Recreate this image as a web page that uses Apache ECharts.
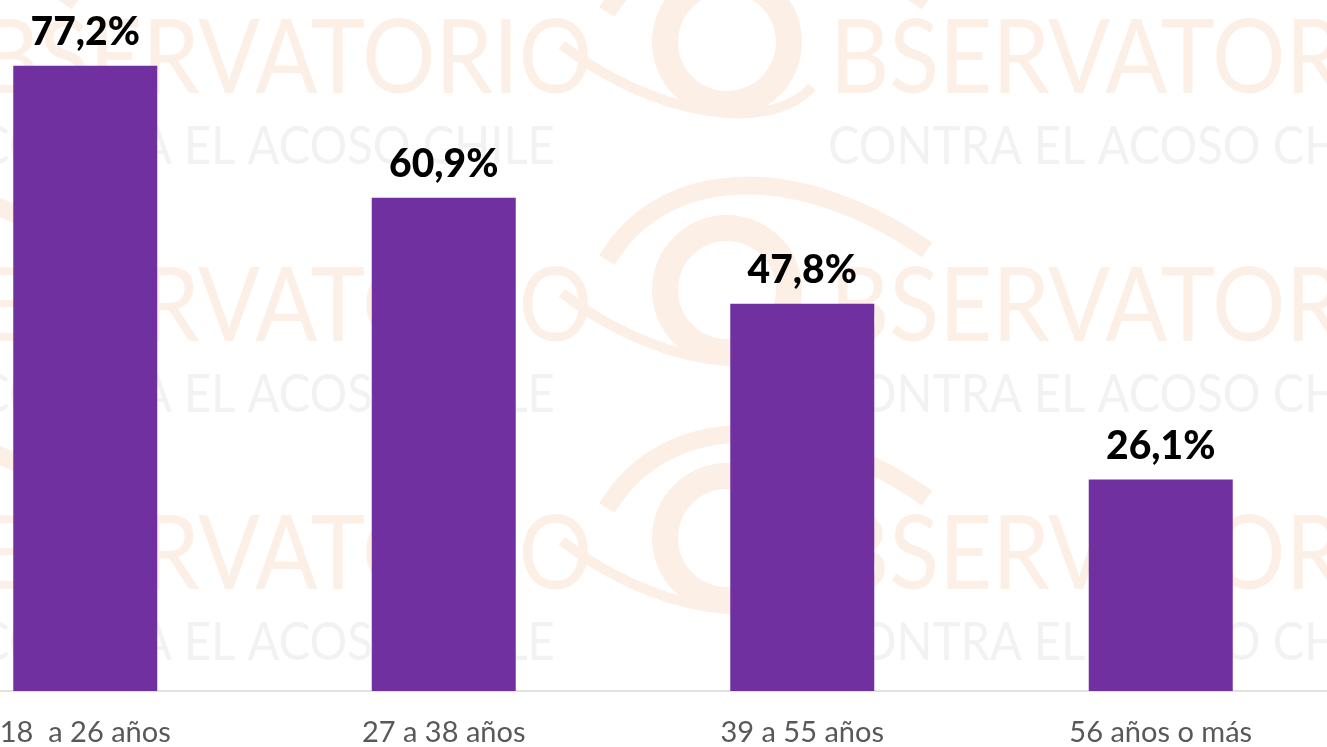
<!DOCTYPE html>
<html>
<head>
<meta charset="utf-8">
<script src="https://cdn.jsdelivr.net/npm/echarts@6/dist/echarts.min.js"></script>
<style>
  html, body { margin: 0; padding: 0; background: #fff; overflow: hidden; width: 1327px; height: 747px; }
  /* the plot runs past the left and right edges of the picture */
  #chart { position: absolute; left: -94px; top: 0; width: 1434px; height: 747px; }
</style>
</head>
<body>
<div id="chart"></div>
<script>
// Data
var categories = ['18  a 26 años', '27 a 38 años', '39 a 55 años', '56 años o más'];
var values = [77.2, 60.9, 47.8, 26.1];

// Watermark layout (logo repeated in a grid behind the bars), page coords
var shiftX = 94;
var wmColumns = [-20, 830];
var wmRows = [60, 308, 556];
var wmOrange = '#fcefe6';
var wmGray = '#f2f2f2';

function buildWatermark() {
    var els = [];
    wmColumns.forEach(function (px) {
        var x0 = px + shiftX;
        wmRows.forEach(function (cy) {
            var cx = x0 - 103, cyr = cy - 18;
            // upper lid
            els.push({
                type: 'bezierCurve', z: -10, silent: true,
                shape: { x1: cx - 120, y1: cyr - 30, cpx1: cx - 60, cpy1: cyr - 130,
                         cpx2: cx + 80, cpy2: cyr - 125, x2: cx + 200, y2: cyr - 40 },
                style: { stroke: wmOrange, lineWidth: 18, fill: null }
            });
            // lower lid
            els.push({
                type: 'bezierCurve', z: -10, silent: true,
                shape: { x1: cx - 165, y1: cyr + 3, cpx1: cx - 80, cpy1: cyr + 70,
                         cpx2: cx + 40, cpy2: cyr + 95, x2: cx + 85, y2: cyr + 45 },
                style: { stroke: wmOrange, lineWidth: 10, fill: null }
            });
            // the "O"
            els.push({
                type: 'ring', z: -10, silent: true,
                shape: { cx: cx, cy: cyr, r: 75, r0: 49 },
                style: { fill: wmOrange }
            });
            els.push({
                type: 'text', z: -10, silent: true,
                x: x0, y: cy, scaleX: 0.9,
                style: {
                    text: 'BSERVATORIO', fill: wmOrange,
                    fontSize: 102, fontFamily: 'Lato', fontWeight: 'normal',
                    verticalAlign: 'middle', align: 'left'
                }
            });
            els.push({
                type: 'text', z: -10, silent: true,
                x: x0 - 2, y: cy + 87, scaleX: 0.89,
                style: {
                    text: 'CONTRA EL ACOSO CHILE', fill: wmGray,
                    fontSize: 53, fontFamily: 'Lato', fontWeight: 'normal',
                    verticalAlign: 'middle', align: 'left'
                }
            });
        });
    });
    return els;
}

var chart = echarts.init(document.getElementById('chart'));

chart.setOption({
    backgroundColor: '#ffffff',
    animation: false,
    graphic: buildWatermark(),
    grid: {
        left: 0,
        right: 0,
        top: 43,
        bottom: 56,
        containLabel: false
    },
    xAxis: {
        type: 'category',
        data: categories,
        axisTick: { show: false },
        axisLine: {
            lineStyle: { color: '#d9d9d9', width: 1.5 }
        },
        axisLabel: {
            color: '#595959',
            fontFamily: 'Lato, sans-serif',
            fontSize: 29,
            margin: 27,
            interval: 0
        }
    },
    yAxis: {
        type: 'value',
        min: 0,
        max: 80,
        show: false,
        splitLine: { show: false }
    },
    series: [{
        type: 'bar',
        data: values,
        barWidth: 144,
        itemStyle: { color: '#7030a0' },
        label: {
            show: true,
            position: 'top',
            distance: 14,
            color: '#000',
            fontFamily: 'Lato, sans-serif',
            fontWeight: 900,
            fontSize: 39,
            formatter: function (p) {
                return p.value.toFixed(1).replace('.', ',') + '%';
            }
        }
    }]
});
</script>
</body>
</html>
